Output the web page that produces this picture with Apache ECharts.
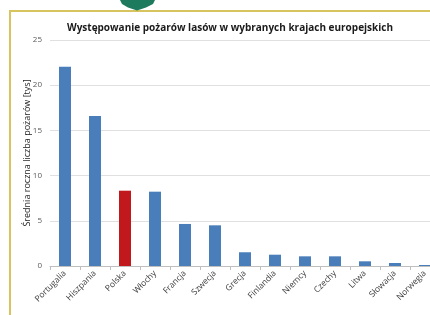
<!DOCTYPE html>
<html>
<head>
<meta charset="utf-8">
<script src="https://cdn.jsdelivr.net/npm/echarts@6/dist/echarts.min.js"></script>
<style>
html,body{margin:0;padding:0;background:#fff;}
#chart{width:430px;height:315px;}
</style>
</head>
<body>
<div id="chart"></div>
<script>
const categories = ['Portugalia','Hiszpania','Polska','Włochy','Francja','Szwecja','Grecja','Finlandia','Niemcy','Czechy','Litwa','Słowacja','Norwegia'];
const fireValues = [22.05, 16.6, 8.33, 8.22, 4.65, 4.5, 1.52, 1.25, 1.07, 1.07, 0.52, 0.33, 0.11];
const highlightCategory = 'Polska';
const yTicks = [0, 5, 10, 15, 20, 25];

const chart = echarts.init(document.getElementById('chart'), null, {renderer: 'canvas'});
const option = {
  animation: false,
  backgroundColor: '#ffffff',
  title: {
    text: 'Występowanie pożarów lasów w wybranych krajach europejskich',
    left: 225, top: 18, textAlign: 'center',
    textStyle: {fontFamily: 'Open Sans', fontSize: 10, fontWeight: 'bold', color: '#1a1a1a'}
  },
  graphic: [
    {type: 'polyline', shape: {points: [[10, 315], [10, 11], [430, 11]]}, style: {stroke: '#d8c45e', lineWidth: 2, fill: null}},
    {type: 'polygon', shape: {points: [[120, 0], [155, 0], [153, 4], [146, 7.5], [137, 10.5], [128, 7.5], [122, 4]]}, style: {fill: '#1d7a5c'}}
  ],
  grid: {left: 50, top: 40, width: 390, bottom: 49, containLabel: false, outerBoundsMode: 'none'},
  xAxis: {
    type: 'category',
    data: categories,
    axisLine: {lineStyle: {color: '#bfbfbf'}},
    axisTick: {show: true, length: 4, lineStyle: {color: '#bfbfbf'}},
    axisLabel: {rotate: 45, fontSize: 8.5, color: '#404040', fontFamily: 'Open Sans', margin: 6, interval: 0}
  },
  yAxis: {
    type: 'value', min: yTicks[0], max: yTicks[yTicks.length - 1], interval: 5,
    name: 'Średnia roczna liczba pożarów [tys]',
    nameLocation: 'middle', nameGap: 18, nameRotate: 90, nameMoveOverlap: false,
    nameTextStyle: {fontSize: 9, color: '#1f1f1f', fontFamily: 'Open Sans'},
    axisLine: {show: false}, axisTick: {show: false},
    axisLabel: {fontSize: 8, color: '#595959', fontFamily: 'Open Sans', margin: 8},
    splitLine: {lineStyle: {color: '#e0e0e0'}}
  },
  series: [{
    type: 'bar',
    data: fireValues.map((v, i) => ({
      value: v,
      itemStyle: {color: categories[i] === highlightCategory ? '#c0181c' : '#4a7ebb'}
    })),
    barWidth: '40%'
  }]
};
chart.setOption(option);
</script>
</body>
</html>
